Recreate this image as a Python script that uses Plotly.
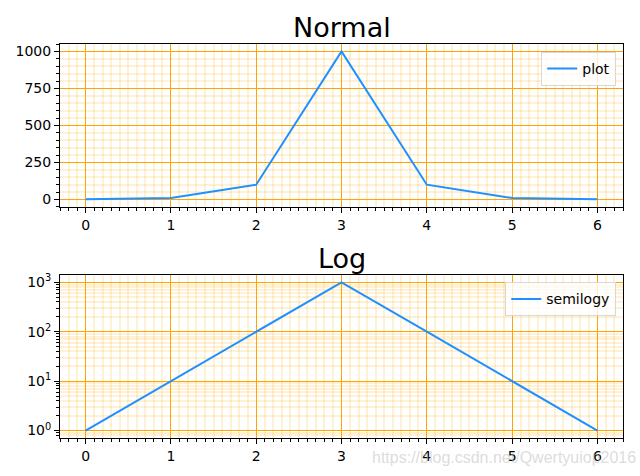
import plotly.graph_objects as go
from plotly.subplots import make_subplots

x_vals = [0, 1, 2, 3, 4, 5, 6]
y_vals = [1, 10, 100, 1000, 100, 10, 1]
log_tickvals = [1, 10, 100, 1000]
log_ticktext = ['10<sup>0</sup>', '10<sup>1</sup>', '10<sup>2</sup>', '10<sup>3</sup>']
watermark = "https://blog.csdn.net/Qwertyuiop2016"

LINE = '#1E90FF'
MAJOR = 'orange'
MINOR = 'rgba(255,165,0,0.16)'

fig = make_subplots(rows=2, cols=1, vertical_spacing=0.17)

fig.add_trace(go.Scatter(x=x_vals, y=y_vals, mode='lines', name='plot', showlegend=True,
                         line=dict(color=LINE, width=2), legend='legend'), row=1, col=1)
fig.add_trace(go.Scatter(x=x_vals, y=y_vals, mode='lines', name='semilogy', showlegend=True,
                         line=dict(color=LINE, width=2), legend='legend2'), row=2, col=1)

axis_common = dict(
    showline=True, linecolor='black', linewidth=1, mirror=True,
    ticks='outside', ticklen=5, tickcolor='black', automargin=False,
    showgrid=True, gridcolor=MAJOR, gridwidth=1, zeroline=False,
    tickfont=dict(family='DejaVu Sans', size=14, color='black'),
)
minor_common = dict(showgrid=True, gridcolor=MINOR, gridwidth=2,
                    ticks='outside', ticklen=3, tickcolor='black')

# minor positions for the log axis (2..9 in each decade)
log_minor = [m * 10 ** d for d in range(-1, 4) for m in range(2, 10)]

fig.update_xaxes(**axis_common, range=[-0.3, 6.3], dtick=1, tick0=0,
                 minor=dict(dtick=0.1, tick0=0, **minor_common))
fig.update_yaxes(**axis_common, row=1, col=1, range=[-50, 1050], dtick=250,
                 minor=dict(dtick=50, **minor_common))
fig.update_yaxes(**axis_common, row=2, col=1, type='log', range=[-0.15, 3.15],
                 tickmode='array', tickvals=log_tickvals, ticktext=log_ticktext,
                 minor=dict(tickmode='array', tickvals=log_minor, **minor_common))

fig.update_layout(
    width=640, height=476, showlegend=True,
    margin=dict(l=60, r=17, t=44, b=38),
    plot_bgcolor='white', paper_bgcolor='white',
    font=dict(family='DejaVu Sans', color='black'),
    xaxis=dict(domain=[0, 1]), yaxis=dict(domain=[0.5866, 1]),
    xaxis2=dict(domain=[0, 1]), yaxis2=dict(domain=[0, 0.414]),
    legend=dict(x=0.988, y=0.98, xanchor='right', yanchor='top',
                bgcolor='rgba(255,255,255,0.8)', bordercolor='#d8d8d8', borderwidth=1,
                font=dict(family='DejaVu Sans', size=14)),
    legend2=dict(x=0.988, y=0.395, xanchor='right', yanchor='top',
                 bgcolor='rgba(255,255,255,0.8)', bordercolor='#d8d8d8', borderwidth=1,
                 font=dict(family='DejaVu Sans', size=14)),
    annotations=[
        dict(text='Normal', xref='paper', yref='paper', x=0.5, y=1.0, yshift=-1,
             xanchor='center', yanchor='bottom', showarrow=False,
             font=dict(family='DejaVu Sans', size=27, color='black')),
        dict(text='Log', xref='paper', yref='paper', x=0.5, y=0.414, yshift=-1,
             xanchor='center', yanchor='bottom', showarrow=False,
             font=dict(family='DejaVu Sans', size=27, color='black')),
        dict(text=watermark, xref='paper', yref='paper', x=1.0, y=-0.05,
             xanchor='right', yanchor='middle', xshift=15, showarrow=False,
             font=dict(family='Liberation Sans', size=16, color='rgba(190,190,190,0.55)')),
    ],
)

# the page body has a default 8px margin; drop it so the figure sits at 0,0
fig.write_html("out.html", config={'displayModeBar': False},
               post_script="document.body.style.margin = '0';")
